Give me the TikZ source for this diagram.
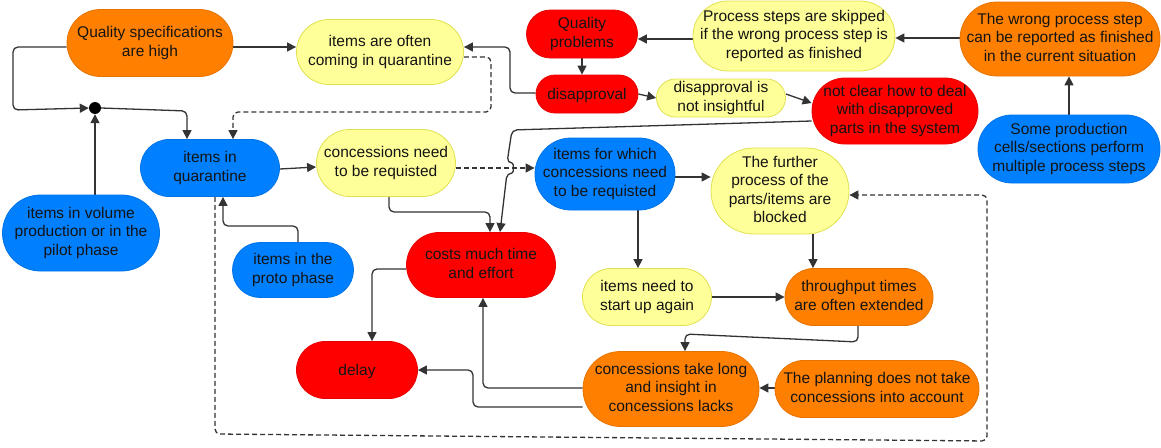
\documentclass[tikz,border=0pt]{standalone}
\usepackage{fontspec}
\setmainfont{Liberation Sans}
\usetikzlibrary{arrows.meta,backgrounds}
\definecolor{cOrg}{HTML}{FF8000}
\definecolor{cOrgB}{HTML}{E67300}
\definecolor{cRed}{HTML}{FF0000}
\definecolor{cRedB}{HTML}{E60000}
\definecolor{cBlu}{HTML}{007FFF}
\definecolor{cBluB}{HTML}{0073E6}
\definecolor{cYel}{HTML}{FFFF99}
\definecolor{cYelB}{HTML}{E0E050}
\definecolor{cLine}{HTML}{333333}
\definecolor{txt}{HTML}{141414}
\tikzset{
  pill/.style n args={3}{draw, align=center, inner sep=0pt, line width=0.8pt,
    minimum width=#1pt, minimum height=#2pt, rounded corners=#3pt,
    text=txt, font=\fontsize{15.5}{18.5}\selectfont,
    execute at begin node={\rule{0pt}{15pt}},
    execute at end node={\rule[-3.5pt]{0pt}{3.5pt}}},
  org/.style={fill=cOrg, draw=cOrgB},
  red/.style={fill=cRed, draw=cRedB},
  blu/.style={fill=cBlu, draw=cBluB},
  yel/.style={fill=cYel, draw=cYelB},
  arr/.style={draw=cLine, line width=1.3pt, rounded corners=5pt,
    -{Triangle[length=9pt,width=9pt]}},
  dsh/.style={arr, dash pattern=on 5pt off 3pt},
}
\begin{document}
\begin{tikzpicture}[x=1pt, y=-1pt]
\useasboundingbox (0,0) rectangle (1161,447);

% causes and effects
\node[pill={166}{67}{33.5}, org] (qs) at (150,43) {Quality specifications\\are high};
\node[pill={167}{65}{32.5}, yel] (iq) at (380,52) {items are often\\coming in quarantine};
\node[pill={111}{48}{24}, red] (qp) at (582,34) {Quality\\problems};
\node[pill={102}{38}{19}, red] (dis) at (587,94) {disapproval};
\node[pill={129}{38}{19}, yel] (dni) at (721,98) {disapproval is\\not insightful};
\node[pill={202}{70}{35}, yel] (ps) at (794,36) {Process steps are skipped\\if the wrong process step is\\reported as finished};
\node[pill={200}{74}{37}, org] (wp) at (1060,39) {The wrong process step\\can be reported as finished\\in the current situation};
\node[pill={166}{66}{33}, red] (nc) at (895,111) {not clear how to deal\\with disapproved\\parts in the system};
\node[pill={182}{68}{34}, blu] (sp) at (1069,149) {Some production\\cells/sections perform\\multiple process steps};
\node[pill={139}{57}{28.5}, blu] (qu) at (210,168) {items in\\quarantine};
\node[pill={157}{76}{38}, blu] (vol) at (81,233) {items in volume\\production or in the\\pilot phase};
\node[pill={121}{55}{27.5}, blu] (pro) at (293,270) {items in the\\proto phase};
\node[pill={139}{67}{33.5}, yel] (cn) at (386,163) {concessions need\\to be requisted};
\node[pill={140}{72}{36}, blu] (ifw) at (605,174) {items for which\\concessions need\\to be requisted};
\node[pill={149}{65}{32.5}, red] (cost) at (481,265) {costs much time\\and effort};
\node[pill={138}{86}{43}, yel] (fp) at (780,191) {The further\\process of the\\parts/items are\\blocked};
\node[pill={129}{57}{28.5}, yel] (sua) at (647,297) {items need to\\start up again};
\node[pill={148}{57}{28.5}, org] (tp) at (859,297) {throughput times\\are often extended};
\node[pill={121}{57}{28.5}, red] (del) at (357,370) {delay};
\node[pill={176}{75}{37.5}, org] (ctl) at (671,389) {concessions take long\\and insight in\\concessions lacks};
\node[pill={204}{57}{28.5}, org] (pl) at (877,389) {The planning does not take\\concessions into account};
\node[circle, fill=black, inner sep=0pt, minimum size=12pt] (jn) at (95,108) {};

\begin{pgfonlayer}{background}
% top row
\draw[arr] (qs.east |- 0,47) -- (iq.west |- 0,47);
\draw[arr] (qs.west |- 0,47) -- (13,47) -- (13,110) -- (jn.west);
\draw[arr] (jn |- vol.north) -- (jn.south);
\draw[arr] (jn.east) -- (187,111) -- (qu.north -| 187,0);
\draw[dsh] (iq.east |- 0,57) -- (491,57) -- (491,112) -- (233,112) -- (qu.north -| 233,0);
\draw[arr] (dis.west |- 0,93) -- (510,93) -- (510,47) -- (iq.east |- 0,47);
\draw[arr] (qp.south) -- (qp.south |- dis.north);
\draw[arr] (ps.west |- 0,39) -- (qp.east |- 0,39);
\draw[arr] (wp.west |- 0,38) -- (ps.east |- 0,38);
\draw[arr] (sp.north) -- (wp.south -| sp.north);
\draw[arr] (dis.east) -- (dni.west);
\draw[arr] (dni.east |- 0,94) -- (nc.west |- 0,103);
% middle
\draw[arr] (nc.west |- 0,121) -- (512,130) -- (507,163)
  .. controls (514,163) and (514,173) .. (507,173) -- (cost.north -| 500,0);
\draw[arr] (cn.south -| 389,0) -- (389,212) -- (490,212) -- (cost.north -| 490,0);
\draw[arr] (qu.east |- 0,169) -- (cn.west |- 0,167);
\draw[dsh] (cn.east |- 0,168) -- (ifw.west |- 0,168);
\draw[arr] (pro.north -| 298,0) -- (298,226) -- (223,226) -- (qu.south -| 223,0);
\draw[dsh] (qu.south -| 215,0) -- (215,434) -- (987,441) -- (987,195) -- (fp.east |- 0,195);
\draw[arr] (ifw.east |- 0,177) -- (fp.west |- 0,177);
\draw[arr] (ifw.south -| 638,0) -- (sua.north -| 638,0);
\draw[arr] (fp.south -| 813,0) -- (tp.north -| 813,0);
\draw[arr] (sua.east) -- (tp.west);
% bottom
\draw[arr] (tp.south -| 858,0) -- (858,342) -- (685,334) -- (ctl.north -| 685,0);
\draw[arr] (pl.west |- 0,388) -- (ctl.east |- 0,388);
\draw[arr] (ctl.west |- 0,388) -- (483,388) -- (cost.south -| 483,0);
\draw[arr] (ctl.west |- 0,407) -- (473,407) -- (473,370) -- (del.east);
\draw[arr] (cost.west |- 0,269) -- (372,269) -- (del.north -| 372,0);
\end{pgfonlayer}
\end{tikzpicture}
\end{document}
